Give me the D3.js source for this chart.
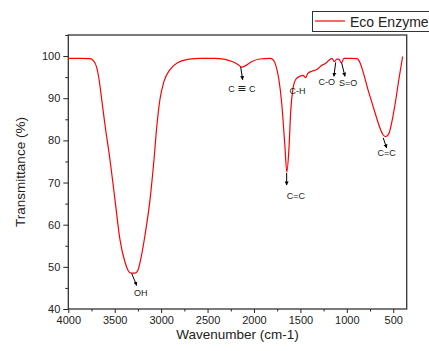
<!DOCTYPE html>
<html>
<head>
<meta charset="utf-8">
<script src="https://cdn.jsdelivr.net/npm/d3@7"></script>
<style>
  body { margin: 0; background: #fff; }
  svg { display: block; font-family: 'Liberation Sans', Arial, sans-serif; }
</style>
</head>
<body>
<div id="chart"></div>
<script>
// FTIR spectrum: wavenumber (cm-1) vs transmittance (%)
const wavenumbers = [4000, 3874, 3766, 3734, 3694, 3669, 3640, 3605, 3551, 3497, 3443, 3389, 3357, 3325, 3282, 3250, 3217, 3174, 3120, 3077, 3045, 3013, 2969, 2905, 2819, 2711, 2582, 2420, 2313, 2237, 2173, 2130, 2087, 2022, 1936, 1829, 1797, 1765, 1732, 1700, 1668, 1646, 1624, 1603, 1581, 1549, 1506, 1474, 1441, 1420, 1377, 1323, 1269, 1226, 1183, 1161, 1133, 1107, 1086, 1058, 1031, 967, 892, 859, 816, 773, 730, 687, 644, 612, 579, 547, 515, 472, 439, 399];
const transmittance = [99.45, 99.45, 99.4, 99.0, 97.3, 94.5, 89.7, 83.7, 75.4, 65.9, 56.4, 51.1, 49.2, 48.5, 48.5, 49.2, 52.1, 57.5, 65.9, 75.4, 83.7, 89.7, 94.0, 96.8, 98.5, 99.2, 99.45, 99.45, 99.2, 98.7, 98.0, 97.4, 97.8, 98.7, 99.3, 99.45, 99.2, 97.8, 94.5, 88.5, 79.0, 72.5, 77.8, 87.3, 92.1, 94.5, 95.2, 95.4, 94.9, 95.9, 96.4, 96.8, 97.8, 98.3, 99.2, 99.45, 98.7, 99.3, 99.3, 98.4, 99.45, 99.45, 99.4, 98.5, 95.6, 92.1, 89.0, 85.9, 83.0, 81.4, 80.9, 81.6, 84.4, 89.7, 94.5, 99.9];

const xTicks = [4000, 3500, 3000, 2500, 2000, 1500, 1000, 500];
const yTicks = [40, 50, 60, 70, 80, 90, 100];
const seriesName = 'Eco Enzyme';

// peak labels: arrow from (w0,t0) to (w1,t1), text at (wl,tl); arrow null = text only
const peakLabels = [['OH'], ['C ', '\u2261', ' C'], ['C=C'], ['C-H'], ['C-O'], ['S=O'], ['C=C']];
const peakArrows = [
  [3317, 48.4, 3263, 45.6],
  [2143, 97.4, 2122, 94.4],
  [1648, 72.3, 1648, 69.4],
  null,
  [1120, 98.5, 1139, 95.2],
  [1056, 98.4, 1020, 95.2],
  [608, 80.6, 571, 78.2]
];
const peakTextPos = [[3220, 43.9], [2130, 92.2], [1548, 66.8], [1532, 91.7], [1217, 94.0], [985, 93.7], [571, 77.1]];

const width = 429, height = 351;
const margin = { top: 35, right: 22.3, bottom: 42, left: 68.3 };

const svg = d3.select('#chart').append('svg')
  .attr('width', width)
  .attr('height', height);

const x = d3.scaleLinear().domain([4000, 355]).range([margin.left, width - margin.right]);
const y = d3.scaleLinear().domain([40, 105]).range([height - margin.bottom, margin.top]);

// arrow head
svg.append('defs').append('marker')
  .attr('id', 'arrow')
  .attr('viewBox', '0 0 10 10')
  .attr('refX', 9).attr('refY', 5)
  .attr('markerWidth', 4).attr('markerHeight', 5.5)
  .attr('orient', 'auto')
  .attr('markerUnits', 'userSpaceOnUse')
  .append('path')
  .attr('d', 'M0,0 L10,5 L0,10 Z')
  .attr('fill', '#000');

// axes
svg.append('g')
  .attr('class', 'x-axis')
  .attr('transform', `translate(0, ${height - margin.bottom})`)
  .call(d3.axisBottom(x).tickValues(xTicks).tickFormat(d3.format('d')).tickSize(4).tickPadding(3).tickSizeOuter(0));
svg.append('g')
  .attr('class', 'x-minor')
  .attr('transform', `translate(0, ${height - margin.bottom})`)
  .call(d3.axisBottom(x).tickValues(xTicks.map(d => d - 250).filter(d => d > 355)).tickSize(2.5).tickFormat('').tickSizeOuter(0));

svg.append('g')
  .attr('class', 'y-axis')
  .attr('transform', `translate(${margin.left}, 0)`)
  .call(d3.axisLeft(y).tickValues(yTicks).tickFormat(d3.format('d')).tickSize(5).tickPadding(3).tickSizeOuter(0));
svg.append('g')
  .attr('class', 'y-minor')
  .attr('transform', `translate(${margin.left}, 0)`)
  .call(d3.axisLeft(y).tickValues(yTicks.map(d => d + 5)).tickSize(3).tickFormat('').tickSizeOuter(0));

svg.selectAll('.x-axis path, .y-axis path, .x-minor path, .y-minor path').attr('stroke', 'none');
svg.selectAll('.x-axis line, .y-axis line, .x-minor line, .y-minor line').attr('stroke', '#222').attr('stroke-width', 1);
svg.selectAll('.x-axis text, .y-axis text')
  .attr('font-size', 11)
  .attr('fill', '#222');

// frame
svg.append('rect')
  .attr('x', margin.left)
  .attr('y', margin.top)
  .attr('width', width - margin.left - margin.right)
  .attr('height', height - margin.top - margin.bottom)
  .attr('fill', 'none')
  .attr('stroke', '#333')
  .attr('stroke-width', 1.3);

// spectrum
const pts = wavenumbers.map((w, i) => [w, transmittance[i]]);
const line = d3.line()
  .x(d => x(d[0]))
  .y(d => y(d[1]))
  .curve(d3.curveMonotoneX);
svg.append('path')
  .datum(pts)
  .attr('d', line)
  .attr('fill', 'none')
  .attr('stroke', '#ff0000')
  .attr('stroke-width', 1.2);

// peak annotations
peakArrows.forEach(a => {
  if (!a) return;
  svg.append('line')
    .attr('x1', x(a[0])).attr('y1', y(a[1]))
    .attr('x2', x(a[2])).attr('y2', y(a[3]))
    .attr('stroke', '#000')
    .attr('stroke-width', 1)
    .attr('marker-end', 'url(#arrow)');
});
const labels = svg.selectAll('.peak-label')
  .data(peakLabels)
  .join('text')
  .attr('class', 'peak-label')
  .attr('x', (d, i) => x(peakTextPos[i][0]))
  .attr('y', (d, i) => y(peakTextPos[i][1]))
  .attr('dy', '0.35em')
  .attr('text-anchor', 'middle')
  .attr('font-size', 9)
  .attr('fill', '#222');
labels.selectAll('tspan')
  .data(d => d)
  .join('tspan')
  .attr('font-family', d => d === '\u2261' ? "'DejaVu Sans', sans-serif" : null)
  .attr('font-size', d => d === '\u2261' ? 11 : null)
  .text(d => d);

// axis titles
svg.append('text')
  .attr('x', (margin.left + width - margin.right) / 2)
  .attr('y', 339)
  .attr('text-anchor', 'middle')
  .attr('font-size', 13.5)
  .attr('fill', '#222')
  .text('Wavenumber (cm-1)');
svg.append('text')
  .attr('transform', `translate(25, ${(margin.top + height - margin.bottom) / 2}) rotate(-90)`)
  .attr('text-anchor', 'middle')
  .attr('font-size', 13.5)
  .attr('fill', '#222')
  .text('Transmittance (%)');

// legend
const legend = svg.append('g').attr('class', 'legend');
legend.append('rect')
  .attr('x', 312.5).attr('y', 11.5)
  .attr('width', 130).attr('height', 20)
  .attr('fill', '#fff')
  .attr('stroke', '#333')
  .attr('stroke-width', 1);
legend.append('line')
  .attr('x1', 315).attr('x2', 345)
  .attr('y1', 21).attr('y2', 21)
  .attr('stroke', '#ff0000')
  .attr('stroke-width', 1.2);
legend.append('text')
  .attr('x', 350).attr('y', 26.5)
  .attr('font-size', 14)
  .attr('fill', '#222')
  .text(seriesName);
</script>
</body>
</html>
